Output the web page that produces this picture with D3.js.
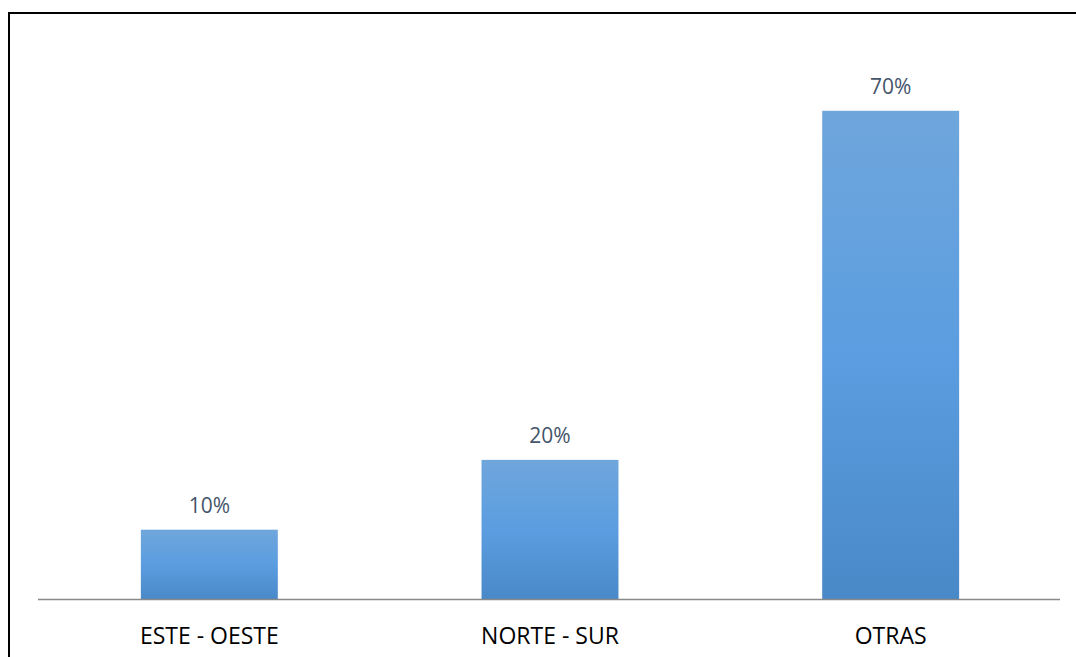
<!DOCTYPE html>
<html>
<head>
<meta charset="utf-8">
<script src="https://cdn.jsdelivr.net/npm/d3@7"></script>
<style>
  html, body { margin: 0; padding: 0; background: #fff; overflow: hidden; }
  svg { display: block; }
</style>
</head>
<body>
<svg id="chart" width="1076" height="657"></svg>
<script>
// Share of routes by orientation
const categories = ["ESTE - OESTE", "NORTE - SUR", "OTRAS"];
const values = [0.10, 0.20, 0.70];
const valueLabels = ["10%", "20%", "70%"];

const W = 1076, H = 657;
const plot = { left: 39, right: 1061, top: 41, bottom: 599.5 };

const svg = d3.select("#chart");

// Chart frame (extends past the right and bottom edges of the page)
svg.append("rect")
  .attr("x", 9).attr("y", 13)
  .attr("width", 1200).attr("height", 800)
  .attr("fill", "#fff")
  .attr("stroke", "#000")
  .attr("stroke-width", 2);

// Vertical gradient for the bar fill
const defs = svg.append("defs");
const grad = defs.append("linearGradient")
  .attr("id", "barFill")
  .attr("x1", 0).attr("y1", 0).attr("x2", 0).attr("y2", 1);
grad.append("stop").attr("offset", "0%").attr("stop-color", "#6fa6dc");
grad.append("stop").attr("offset", "50%").attr("stop-color", "#5b9de0");
grad.append("stop").attr("offset", "100%").attr("stop-color", "#4a89c8");

const x = d3.scaleBand()
  .domain(categories)
  .range([plot.left, plot.right])
  .paddingInner(0.598)
  .paddingOuter(0.299);

const y = d3.scaleLinear()
  .domain([0, 0.8])
  .range([plot.bottom, plot.top]);

const data = categories.map((c, i) => ({ cat: c, v: values[i], label: valueLabels[i] }));

// Bars
svg.append("g").selectAll("rect")
  .data(data)
  .join("rect")
  .attr("x", d => x(d.cat))
  .attr("y", d => y(d.v))
  .attr("width", x.bandwidth())
  .attr("height", d => y(0) - y(d.v))
  .attr("fill", "url(#barFill)");

// Value labels above bars
svg.append("g").selectAll("text")
  .data(data)
  .join("text")
  .attr("x", d => x(d.cat) + x.bandwidth() / 2)
  .attr("y", d => y(d.v) - 16.5)
  .attr("text-anchor", "middle")
  .attr("font-family", "'Open Sans', sans-serif")
  .attr("font-size", 21)
  .attr("fill", "#44546a")
  .text(d => d.label);

// Category axis
const xAxis = svg.append("g")
  .attr("transform", `translate(0,${plot.bottom})`)
  .call(d3.axisBottom(x).tickSize(0));
xAxis.select(".domain")
  .attr("d", `M${plot.left - 1},0H${plot.right - 1}`)
  .attr("stroke", "#898989")
  .attr("stroke-width", 1.3);
xAxis.selectAll(".tick text")
  .attr("y", 44)
  .attr("dy", 0)
  .attr("font-family", "'Open Sans', sans-serif")
  .attr("font-size", 23)
  .attr("fill", "#000");
</script>
</body>
</html>
